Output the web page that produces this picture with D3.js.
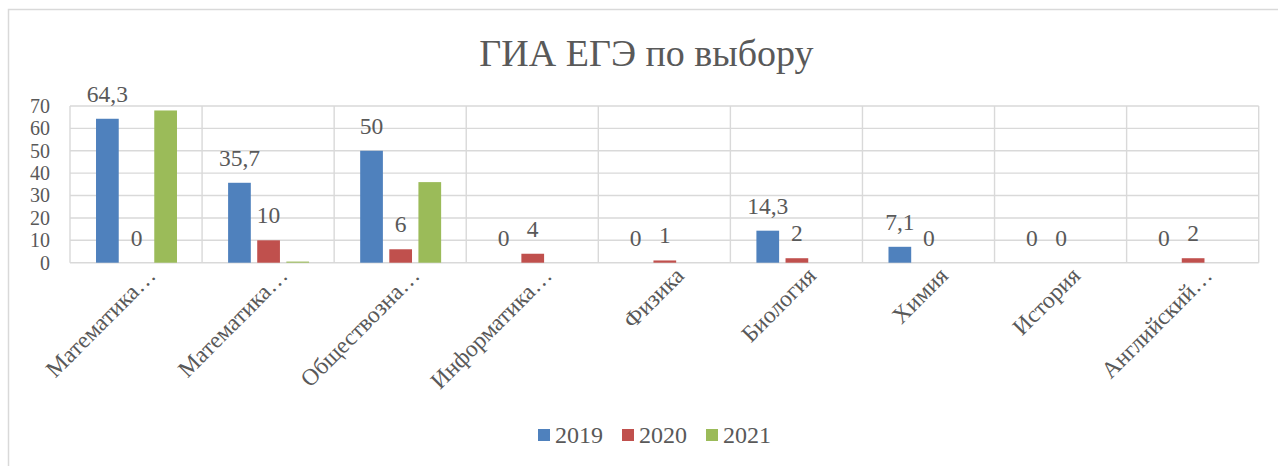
<!DOCTYPE html>
<html>
<head>
<meta charset="utf-8">
<script src="https://cdn.jsdelivr.net/npm/d3@7"></script>
</head>
<body style="margin:0">
<script>
const w = 1278, h = 466;

const title = "ГИА ЕГЭ по выбору";
const categories = ["Математика…", "Математика…", "Обществозна…", "Информатика…", "Физика", "Биология", "Химия", "История", "Английский…"];
const series = ["2019", "2020", "2021"];
const v2019 = [64.3, 35.7, 50, 0, 0, 14.3, 7.1, 0, 0];
const v2020 = [0, 10, 6, 4, 1, 2, 0, 0, 2];
const v2021 = [68, 0.5, 36, 0, 0, 0, 0, 0, 0];
const labelled = ["2019", "2020"];
const yTicks = [0, 10, 20, 30, 40, 50, 60, 70];
const colors = ["#4f81bd", "#c0504d", "#9bbb59"];

const values = {"2019": v2019, "2020": v2020, "2021": v2021};
const m = {l: 70, r: 1258.7, t: 106, b: 262.7};
const grid = "#d9d9d9";
const font = "'Liberation Serif', 'Times New Roman', serif";
const ink = "#595959";

const svg = d3.select("body").append("svg")
  .attr("width", w)
  .attr("height", h)
  .style("display", "block");

// outer chart border (runs off the right and bottom edges)
svg.append("rect")
  .attr("x", 8.5).attr("y", 9.5)
  .attr("width", w + 20).attr("height", h + 20)
  .attr("fill", "#fff")
  .attr("stroke", grid)
  .attr("stroke-width", 1.5);

svg.append("text")
  .attr("x", 646.5).attr("y", 65.5)
  .attr("text-anchor", "middle")
  .attr("font-family", font)
  .attr("font-size", 38)
  .attr("fill", ink)
  .text(title);

const x0 = d3.scaleBand().domain(d3.range(categories.length)).range([m.l, m.r]).paddingInner(0);
const x1 = d3.scaleBand().domain(series)
  .range([x0.bandwidth() * 0.197, x0.bandwidth() * 0.81])
  .paddingInner(0.22);
const y = d3.scaleLinear().domain([0, 70]).range([m.b, m.t]);

// horizontal gridlines
svg.append("g").selectAll("line")
  .data(yTicks)
  .join("line")
    .attr("x1", m.l).attr("x2", m.r)
    .attr("y1", d => y(d)).attr("y2", d => y(d))
    .attr("stroke", grid).attr("stroke-width", 1.4);

// vertical gridlines at category boundaries
svg.append("g").selectAll("line")
  .data(d3.range(categories.length + 1))
  .join("line")
    .attr("x1", d => m.l + d * x0.step()).attr("x2", d => m.l + d * x0.step())
    .attr("y1", m.t).attr("y2", m.b)
    .attr("stroke", grid).attr("stroke-width", 1.4);

// y axis labels
svg.append("g").selectAll("text")
  .data(yTicks)
  .join("text")
    .attr("x", 50)
    .attr("y", d => y(d))
    .attr("dy", "0.34em")
    .attr("text-anchor", "end")
    .attr("font-family", font)
    .attr("font-size", 20)
    .attr("fill", ink)
    .text(d => d);

// bars
const groups = svg.append("g").selectAll("g")
  .data(categories)
  .join("g")
    .attr("transform", (d, i) => `translate(${x0(i)},0)`);

groups.selectAll("rect")
  .data((d, i) => series.map((s, k) => ({s, k, v: values[s][i]})))
  .join("rect")
    .attr("x", d => x1(d.s))
    .attr("width", x1.bandwidth())
    .attr("y", d => y(d.v))
    .attr("height", d => y(0) - y(d.v))
    .attr("fill", d => colors[d.k]);

const fmt = v => String(v).replace(".", ",");

groups.selectAll("text")
  .data((d, i) => labelled.map(s => ({s, v: values[s][i]})))
  .join("text")
    .attr("x", d => x1(d.s) + x1.bandwidth() / 2)
    .attr("y", d => y(d.v) - 17)
    .attr("text-anchor", "middle")
    .attr("font-family", font)
    .attr("font-size", 23.5)
    .attr("fill", ink)
    .text(d => fmt(d.v));

// category labels
svg.append("g").selectAll("text")
  .data(categories)
  .join("text")
    .attr("transform", (d, i) => `translate(${x0(i) + x0.bandwidth() / 2 + 21},277) rotate(-45)`)
    .attr("text-anchor", "end")
    .attr("font-family", font)
    .attr("font-size", 23.5)
    .attr("fill", ink)
    .text(d => d);

// legend
const legend = svg.append("g");
let lx = 538;
series.forEach((s, k) => {
  legend.append("rect")
    .attr("x", lx).attr("y", 429)
    .attr("width", 12).attr("height", 12)
    .attr("fill", colors[k]);
  const t = legend.append("text")
    .attr("x", lx + 17).attr("y", 443)
    .attr("font-family", font)
    .attr("font-size", 24)
    .attr("fill", ink)
    .text(s);
  lx += 17 + t.node().getComputedTextLength() + 19;
});
</script>
</body>
</html>
